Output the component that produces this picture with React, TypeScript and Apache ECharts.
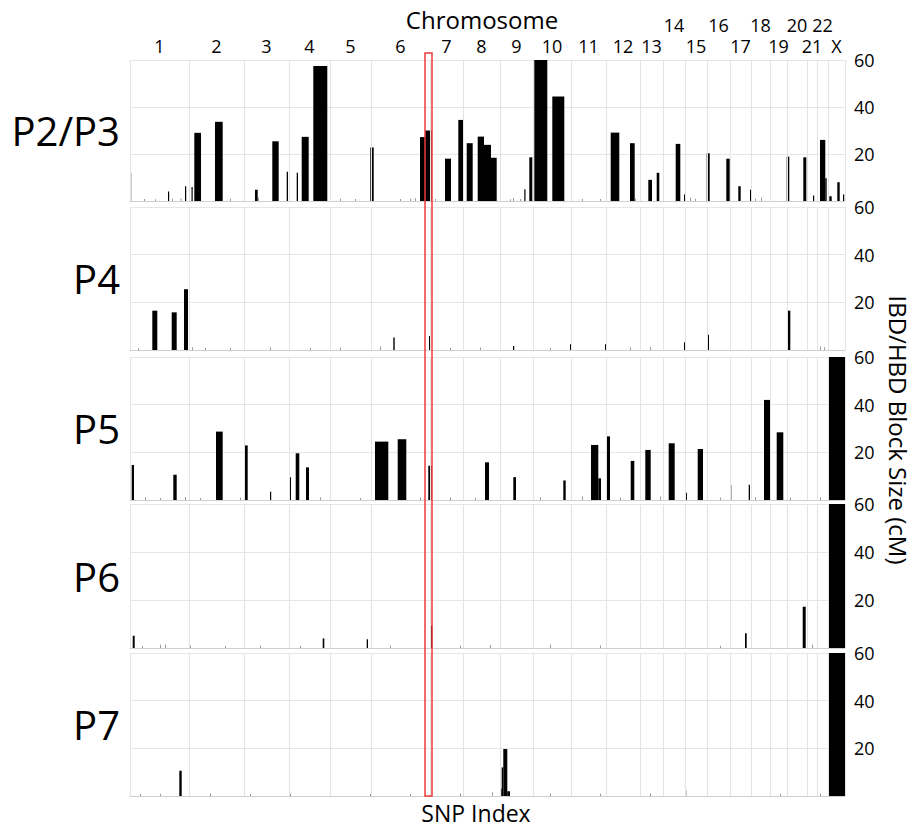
import React, { useEffect, useRef } from "react";
import * as echarts from "echarts";

// Chromosome layout along the SNP index axis (thousands of SNPs, approx.)
const chrNames = ["1","2","3","4","5","6","7","8","9","10","11","12","13","14","15","16","17","18","19","20","21","22","X"];
const chrBounds = [0, 59, 114, 159, 200, 241, 300, 333, 370, 403, 441, 476, 510, 533, 555, 577, 600, 621, 640, 657, 677, 687, 698, 715];
const upperRow = ["14", "16", "18", "20", "22"];

const panelNames = ["P2/P3", "P4", "P5", "P6", "P7"];
const highlight = [295, 302];

// blocks: [start, end, size cM]
const blocksP23 = [
  [0, 1.2, 12], [38, 39, 4], [55, 56, 6.3], [61.5, 62.5, 6], [64.3, 71, 29], [85, 92.7, 33.7],
  [125, 127.7, 4.8], [142.3, 148.7, 25.4], [156.7, 158, 12.5], [166.7, 168, 12], [171.7, 178.7, 27.3],
  [183.3, 197.3, 57.4], [240.3, 243.7, 22.8], [290, 295, 27.2], [295, 301.7, 30], [315, 321, 18],
  [328.3, 333.3, 34.5], [336.7, 342.7, 24.6], [347.7, 354, 27.4], [354, 361, 23.9], [361, 366.7, 18.4],
  [394.3, 395.5, 5], [399.3, 402.3, 18.6], [404.3, 417.3, 60], [422.3, 434.3, 44.5], [480.7, 489.3, 29.1],
  [500, 504.7, 24.6], [518.3, 522, 9], [526.7, 529.3, 12], [545.7, 550.3, 24.3], [554, 554.8, 2.8],
  [576.7, 579.7, 20.3], [596.3, 599.7, 18], [608.3, 610.7, 6.3], [620, 620.8, 4.8], [656.7, 659.3, 18.9],
  [673.3, 676.3, 18.6], [683, 683.8, 2.3], [690, 695.3, 26], [695.3, 696.7, 9.7], [699.3, 701.7, 2],
  [707.3, 709.7, 8], [713, 714, 2.8],
];
const blocksP4 = [
  [22.3, 27.3, 16.5], [41.7, 46.7, 15.8], [54, 58, 25.5], [263.3, 264.7, 5.2], [299, 301, 5.9],
  [383, 384, 1.7], [440, 441, 2.4], [475, 476, 2.4], [554, 555, 3.2], [577.3, 579, 6.4], [657.7, 660.3, 16.5],
];
const blocksP5 = [
  [1.7, 4, 14.7], [43.3, 46.7, 10.6], [86, 92.7, 28.7], [114.7, 117.7, 22.9], [140, 140.8, 3.5],
  [159, 161, 9.5], [165.7, 169.3, 19.6], [176, 179, 13.7], [245, 258.3, 24.5], [267.7, 276.3, 25.5],
  [298.3, 301.7, 14.4], [355, 359, 15.8], [383.3, 386, 9.6], [433.3, 435.7, 8.2], [461, 468.3, 23.1],
  [468.3, 471, 9.1], [476, 480, 26.7], [500.7, 504.3, 16.4], [515.3, 520.7, 21], [538.7, 544.7, 23.8],
  [555.7, 556.5, 3], [567.7, 573, 21.4], [600, 601.3, 6.3], [618.7, 620, 6.4], [634, 640.7, 42],
  [646.7, 653.3, 28.4], [698, 715, 60],
];
const blocksP6 = [
  [2.7, 4.7, 5.1], [192.7, 194.3, 4], [236.7, 238, 3.6], [300, 302.3, 9.3], [615, 616.7, 6.1],
  [672.7, 675.7, 17.2], [698, 715, 60],
];
const blocksP7 = [
  [49.3, 51.7, 10.6], [370.5, 371.7, 3], [371.7, 373.3, 12], [373.3, 377.3, 19.7], [377.3, 380, 2],
  [555, 555.8, 2.5], [698, 715, 60],
];

// small background segments: [position, size cM]
const noiseP23 = [[14, 0.8], [25, 0.7], [42, 1], [50.5, 1.2], [100, 1], [128, 1.5], [210, 1], [225, 0.8], [270, 0.8], [280, 1], [285, 1.2], [305, 0.8], [380, 0.7], [383, 1.3], [390, 0.8], [452, 0.9], [470, 0.8], [505, 1], [560, 1.5], [565, 1], [625, 1], [631, 1.5], [700, 2]];
const noiseP4 = [[8, 0.7], [62, 1.2], [75, 0.8], [100, 0.9], [140, 1], [180, 0.8], [210, 1], [250, 1.5], [320, 0.8], [350, 1], [420, 0.8], [500, 1], [520, 1.3], [600, 1], [640, 1.2], [690, 1.5], [694, 1.2]];
const noiseP5 = [[15, 1.2], [30, 0.8], [55, 1.3], [70, 0.8], [110, 1], [190, 1.2], [230, 0.8], [290, 1], [320, 1], [345, 0.9], [410, 1.3], [452, 1.5], [490, 1], [530, 1.5], [590, 1], [625, 1.3], [660, 1], [690, 1.2]];
const noiseP6 = [[12, 0.8], [30, 1.4], [35, 1.5], [60, 1], [95, 0.8], [130, 1], [170, 0.9], [260, 1], [330, 1], [360, 1.2], [420, 1.5], [470, 1], [555, 1.5], [590, 0.9], [640, 1], [682, 1.4]];
const noiseP7 = [[10, 0.8], [30, 0.9], [80, 1], [120, 0.8], [160, 0.9], [200, 1.1], [240, 0.8], [280, 0.8], [330, 1], [362, 1.6], [420, 1], [470, 0.9], [520, 1], [600, 0.9], [650, 0.9], [690, 1]];

const panelBlocks = [blocksP23, blocksP4, blocksP5, blocksP6, blocksP7];
const panelNoise = [noiseP23, noiseP4, noiseP5, noiseP6, noiseP7];

const gridTops = [60, 207, 357, 504, 653];
const gridHeights = [141, 143, 143, 144, 143];
const FONT = "'Open Sans', 'Noto Sans', sans-serif";

export default function App() {
  const ref = useRef<HTMLDivElement>(null);
  useEffect(() => {
    if (!ref.current) return;
    const chart = echarts.init(ref.current, null, { renderer: "svg" });
    const xMax = chrBounds[chrBounds.length - 1];
    const grids = gridTops.map((t, i) => ({ left: 130, right: 71, top: t, height: gridHeights[i] }));
    const xAxes = grids.map((_, i) => ({
      type: "value", gridIndex: i, min: 0, max: xMax,
      axisLabel: { show: false }, axisTick: { show: false }, splitLine: { show: false },
      axisLine: { show: true, lineStyle: { color: "#cfcfcf", width: 1 } },
    }));
    const yAxes = grids.map((_, i) => ({
      type: "value", gridIndex: i, min: 0, max: 60, interval: 20, position: "right",
      axisLine: { show: false }, axisTick: { show: false },
      axisLabel: { showMinLabel: false, color: "#000", fontSize: 18, fontFamily: FONT, margin: 9 },
      splitLine: { show: true, lineStyle: { color: "#e6e6e6", width: 1 } },
    }));

    const series: any[] = [];
    grids.forEach((_, i) => {
      series.push({
        type: "line", xAxisIndex: i, yAxisIndex: i, data: [], silent: true, z: 1,
        markLine: {
          silent: true, symbol: ["none", "none"], label: { show: false },
          lineStyle: { color: "#e3e3e3", type: "solid", width: 1 },
          data: chrBounds.map((b) => ({ xAxis: b })),
        },
      });
      series.push({
        type: "custom", xAxisIndex: i, yAxisIndex: i, z: 2, silent: true,
        encode: { x: 0, y: 1 },
        data: panelNoise[i],
        renderItem: (_p: any, api: any) => {
          const a = api.coord([api.value(0), api.value(1)]);
          const b = api.coord([api.value(0), 0]);
          return { type: "rect", shape: { x: a[0], y: a[1], width: 1, height: b[1] - a[1] }, style: { fill: "#9a9a9a" } };
        },
      });
      series.push({
        type: "custom", xAxisIndex: i, yAxisIndex: i, z: 3, silent: true,
        encode: { x: [0, 1], y: 2 },
        data: panelBlocks[i],
        renderItem: (_p: any, api: any) => {
          const a = api.coord([api.value(0), api.value(2)]);
          const b = api.coord([api.value(1), 0]);
          const w = Math.max(b[0] - a[0], 1.2);
          return { type: "rect", shape: { x: a[0], y: a[1], width: w, height: b[1] - a[1] }, style: { fill: "#000" } };
        },
      });
    });

    const chrMid = chrBounds.slice(0, -1).map((b, i) => [(b + chrBounds[i + 1]) / 2, i]);
    series.push({
      type: "custom", xAxisIndex: 0, yAxisIndex: 0, z: 5, silent: true, clip: false,
      encode: { x: 0 },
      data: chrMid,
      renderItem: (_p: any, api: any) => {
        const name = chrNames[api.value(1)];
        const c = api.coord([api.value(0), 60]);
        const up = upperRow.indexOf(name) >= 0;
        return {
          type: "text", x: c[0], y: c[1] - (up ? 35 : 14),
          style: { text: name, fill: "#000", font: `18px ${FONT}`, align: "center", verticalAlign: "middle" },
        };
      },
    });

    chart.setOption({
      animation: false,
      backgroundColor: "#fff",
      grid: grids, xAxis: xAxes, yAxis: yAxes, series,
    });

    const p1 = chart.convertToPixel({ gridIndex: 0 }, [highlight[0], 60]) as number[];
    const p2 = chart.convertToPixel({ gridIndex: 4 }, [highlight[1], 0]) as number[];
    const graphics: any[] = panelNames.map((n, i) => ({
      type: "text", x: 120, y: gridTops[i] + gridHeights[i] / 2,
      style: { text: n, fill: "#000", font: `40px ${FONT}`, align: "right", verticalAlign: "middle" },
    }));
    graphics.push({ type: "text", x: 482, y: 19, style: { text: "Chromosome", fill: "#000", font: `24px ${FONT}`, align: "center", verticalAlign: "middle" } });
    graphics.push({ type: "text", x: 476, y: 813, style: { text: "SNP Index", fill: "#000", font: `23px ${FONT}`, align: "center", verticalAlign: "middle" } });
    graphics.push({
      type: "text", x: 898, y: 430, rotation: -Math.PI / 2,
      style: { text: "IBD/HBD Block Size (cM)", fill: "#000", font: `24px ${FONT}`, align: "center", verticalAlign: "middle" },
    });
    graphics.push({
      type: "rect", z: 100,
      shape: { x: p1[0], y: p1[1] - 7, width: p2[0] - p1[0], height: p2[1] - p1[1] + 7 },
      style: { fill: "none", stroke: "#f03a3a", lineWidth: 1.5 },
    });
    chart.setOption({ graphic: graphics });

    return () => chart.dispose();
  }, []);
  return <div ref={ref} style={{ position: "fixed", left: 0, top: 0, width: 916, height: 829 }} />;
}
